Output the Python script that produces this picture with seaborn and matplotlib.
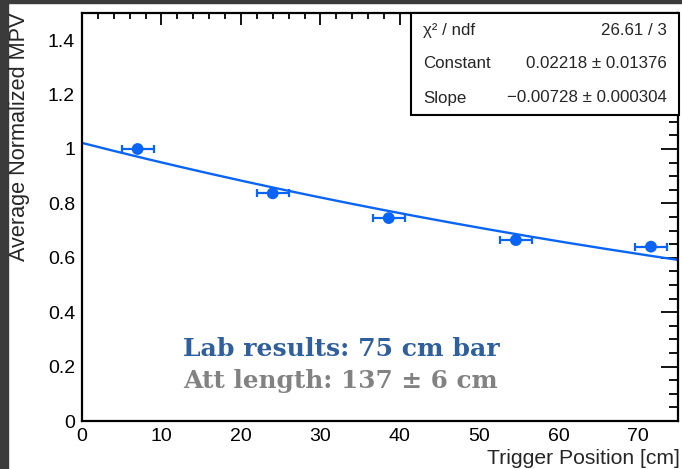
import numpy as np
import pandas as pd
import matplotlib
matplotlib.use("Agg")
import matplotlib.pyplot as plt
import seaborn as sns
from matplotlib.ticker import MultipleLocator, FuncFormatter
from matplotlib.patches import Rectangle

# Measured points: trigger position (cm) vs. average normalized MPV
positions = [7.0, 24.0, 38.6, 54.6, 71.6]
mpv = [1.0, 0.837, 0.746, 0.665, 0.641]
position_err = [2.0, 2.0, 2.0, 2.0, 2.0]

# Exponential fit results  y = exp(constant + slope * x)
fit_constant, fit_constant_err = 0.02218, 0.01376
fit_slope, fit_slope_err = -0.00728, 0.000304
chi2, ndf = 26.61, 3

x_range = (0, 75)
y_range = (0, 1.5)

sns.set_style("white")
plt.rcParams["font.family"] = ["Liberation Sans", "DejaVu Sans"]

W, H = 682, 469
fig = plt.figure(figsize=(W / 100, H / 100), dpi=100)
fig.patch.set_facecolor("white")

# dark frame strips along the left and top edges
fig.patches.append(Rectangle((0, 0), 8 / W, 1, transform=fig.transFigure,
                             color="#3b3b3b", zorder=0))
fig.patches.append(Rectangle((0, 1 - 3 / H), 1, 3 / H, transform=fig.transFigure,
                             color="#3b3b3b", zorder=0))

ax = fig.add_axes([82 / W, 48 / H, (678 - 82) / W, (421 - 13) / H])

blue = "#0a64f5"

# fit curve
xs = np.linspace(x_range[0], x_range[1], 300)
fit_df = pd.DataFrame({"x": xs, "y": np.exp(fit_constant + fit_slope * xs)})
sns.lineplot(data=fit_df, x="x", y="y", ax=ax, color=blue, linewidth=1.7,
             zorder=2)

# data points with horizontal error bars
pts = pd.DataFrame({"pos": positions, "mpv": mpv, "err": position_err})
ax.errorbar(pts["pos"], pts["mpv"], xerr=pts["err"], fmt="none", ecolor=blue,
            elinewidth=1.6, capsize=3, capthick=1.6, zorder=3)
sns.scatterplot(data=pts, x="pos", y="mpv", ax=ax, color=blue, s=72,
                edgecolor="none", zorder=4)

ax.set_xlim(*x_range)
ax.set_ylim(*y_range)
ax.set_xlabel("")
ax.set_ylabel("")

ax.xaxis.set_major_locator(MultipleLocator(10))
ax.xaxis.set_minor_locator(MultipleLocator(2))
ax.yaxis.set_major_locator(MultipleLocator(0.2))
ax.yaxis.set_minor_locator(MultipleLocator(0.05))
fmt = FuncFormatter(lambda v, p: f"{v:g}")
ax.xaxis.set_major_formatter(fmt)
ax.yaxis.set_major_formatter(fmt)

for s in ax.spines.values():
    s.set_linewidth(1.6)
    s.set_color("black")

ax.tick_params(axis="both", which="both", direction="in", top=True, right=True,
               width=1.3, colors="black", labelsize=14)
ax.tick_params(axis="x", which="major", length=8.8, pad=5)
ax.tick_params(axis="x", which="minor", length=4.4)
ax.tick_params(axis="y", which="major", length=12.3, pad=5)
ax.tick_params(axis="y", which="minor", length=6.2)

# axis titles, aligned to the frame ends
fig.text(680 / W, 1 - 458 / H, "Trigger Position [cm]", ha="right",
         va="center", fontsize=15.2)
fig.text(20 / W, 1 - 13 / H, "Average Normalized MPV", rotation=90,
         ha="center", va="top", fontsize=15.6)

# statistics box
box_l, box_r, box_t, box_b = 411, 679, 13, 115
fig.patches.append(Rectangle((box_l / W, 1 - box_b / H), (box_r - box_l) / W,
                             (box_b - box_t) / H, transform=fig.transFigure,
                             facecolor="white", edgecolor="black",
                             linewidth=1.5, zorder=5))
rows = [
    ("χ² / ndf", f"{chi2:.2f} / {ndf}"),
    ("Constant", f"{fit_constant:.5f} ± {fit_constant_err:.5f}"),
    ("Slope", f"−{abs(fit_slope):.5f} ± {fit_slope_err:.6f}"),
]
for (name, val), yy in zip(rows, [30, 64, 98]):
    fig.text(423 / W, 1 - yy / H, name, ha="left", va="center",
             fontsize=12.2, zorder=6)
    fig.text(667 / W, 1 - yy / H, val, ha="right", va="center",
             fontsize=12.2, zorder=6)

# annotations
att_len = 1 / abs(fit_slope)
att_err = fit_slope_err / fit_slope ** 2
fig.text(183 / W, 1 - 349 / H, "Lab results: 75 cm bar", ha="left",
         va="center", fontsize=18.1, fontweight="bold", color="#2f5f9c",
         family="DejaVu Serif")
fig.text(183 / W, 1 - 381 / H,
         f"Att length: {att_len:.0f} ± {att_err:.0f} cm", ha="left",
         va="center", fontsize=17.8, fontweight="bold", color="#828282",
         family="DejaVu Serif")

fig.savefig("out.png", dpi=100)
